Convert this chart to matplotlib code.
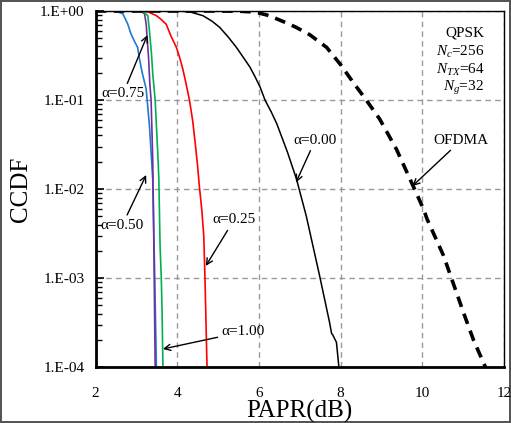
import matplotlib
matplotlib.use("Agg")
import matplotlib.pyplot as plt
from matplotlib.ticker import FixedLocator, FixedFormatter, LogLocator, NullFormatter

plt.rcParams["font.family"] = ["Liberation Serif", "DejaVu Serif"]
plt.rcParams["mathtext.fontset"] = "custom"
plt.rcParams["mathtext.rm"] = "Liberation Serif"
plt.rcParams["mathtext.it"] = "Liberation Serif:italic"

# CCDF curves (PAPR in dB, CCDF)
ofdma_x = [2, 5.0, 5.5, 5.8, 6.0, 6.2, 6.4, 6.6, 6.9, 7.25, 7.66, 8.0, 8.3, 8.63, 8.96,
           9.37, 9.7, 10.03, 10.12, 10.52, 10.77, 11.02, 11.26, 11.55]
ofdma_y = [1, 1, 0.995, 0.98, 0.95, 0.9, 0.83, 0.76, 0.66, 0.54, 0.39, 0.25, 0.16, 0.1, 0.061,
           0.028, 0.013, 0.006, 0.0046, 0.0018, 8.5e-4, 4e-4, 2e-4, 1e-4]

a000_x = [2, 4.0, 4.3, 4.63, 4.85, 5.04, 5.25, 5.45, 5.6, 5.78, 5.9, 6.03, 6.15, 6.3, 6.44,
          6.7, 6.92, 7.16, 7.49, 7.73, 7.78, 7.81, 7.9, 7.96]
a000_y = [1, 1, 0.98, 0.886, 0.77, 0.655, 0.51, 0.39, 0.31, 0.235, 0.185, 0.14, 0.1, 0.074,
          0.054, 0.026, 0.013, 0.005, 0.00105, 3.2e-4, 2.4e-4, 2.3e-4, 1.9e-4, 1e-4]

a025_x = [2, 3.12, 3.3, 3.49, 3.6, 3.73, 3.85, 3.98, 4.06, 4.14, 4.22, 4.3, 4.38, 4.45, 4.5,
          4.54, 4.6, 4.65, 4.68, 4.7, 4.73]
a025_y = [1, 1, 0.97, 0.886, 0.81, 0.71, 0.52, 0.39, 0.3, 0.22, 0.15, 0.1, 0.058, 0.03, 0.018,
          0.011, 0.006, 0.003, 0.001, 4e-4, 1e-4]

a050_x = [2, 2.5, 2.67, 2.79, 2.87, 2.95, 3.03, 3.07, 3.11, 3.15, 3.24, 3.32, 3.36, 3.4,
          3.45, 3.49]
a050_y = [1, 1, 0.93, 0.71, 0.55, 0.46, 0.39, 0.30, 0.24, 0.196, 0.133, 0.051, 0.026, 0.013,
          0.001, 1e-4]

a075_x = [2, 3.1, 3.2, 3.24, 3.28, 3.3, 3.33, 3.36, 3.4, 3.43, 3.46]
a075_y = [1, 1, 0.93, 0.71, 0.39, 0.29, 0.15, 0.1, 0.022, 0.002, 1e-4]

a100_x = [2, 3.15, 3.28, 3.32, 3.37, 3.4, 3.46, 3.53, 3.55, 3.58, 3.61, 3.63, 3.65]
a100_y = [1, 1, 0.886, 0.6, 0.33, 0.2, 0.1, 0.022, 0.013, 0.0023, 0.001, 4e-4, 1e-4]

x_ticks = [2, 4, 6, 8, 10, 12]
y_ticks = [1e-4, 1e-3, 1e-2, 1e-1, 1e0]
y_tick_labels = ["1.E-04", "1.E-03", "1.E-02", "1.E-01", "1.E+00"]

fig = plt.figure(figsize=(5.11, 4.23), dpi=100)
fig.patch.set_edgecolor("#555555")
fig.patch.set_linewidth(1.5)
ax = fig.add_axes([0.187, 0.132, 0.799, 0.842])

ax.plot(a000_x, a000_y, color="black", lw=1.1)
ax.plot(a025_x, a025_y, color="#ff0000", lw=1.2)
ax.plot(a050_x, a050_y, color="#1e7bd0", lw=1.2)
ax.plot(a075_x, a075_y, color="#7030a0", lw=1.2)
ax.plot(a100_x, a100_y, color="#00b050", lw=1.2)
ax.plot(ofdma_x, ofdma_y, color="black", lw=2.6, linestyle=(0, (3, 2)))

ax.set_yscale("log")
ax.set_xlim(2, 12)
ax.set_ylim(1e-4, 1)
ax.xaxis.set_major_locator(FixedLocator(x_ticks))
ax.yaxis.set_major_locator(FixedLocator(y_ticks))
ax.yaxis.set_major_formatter(FixedFormatter(y_tick_labels))
ax.yaxis.set_minor_locator(LogLocator(base=10, subs=range(2, 10)))
ax.yaxis.set_minor_formatter(NullFormatter())
ax.tick_params(axis="y", which="major", direction="in", length=6, width=1.2, labelsize=11, pad=8)
ax.tick_params(axis="y", which="minor", direction="in", length=4, width=1)
ax.tick_params(axis="x", which="major", length=0, labelsize=11, pad=14)

ax.grid(True, which="major", color="#999999", linestyle=(0, (4, 3)), lw=1)
for side in ("left", "bottom"):
    ax.spines[side].set_linewidth(2)
for side in ("top", "right"):
    ax.spines[side].set_linewidth(1)

ax.set_xlabel("PAPR(dB)", fontsize=18, labelpad=0)
ax.set_ylabel("CCDF", fontsize=18, labelpad=6)

arrow = dict(arrowstyle="->", color="black", lw=1, shrinkA=1, shrinkB=0)
txt = dict(fontsize=11, ha="center", va="center")
ax.annotate("α=0.75", xy=(3.27, 0.537), xytext=(2.67, 0.117), arrowprops=arrow, **txt)
ax.annotate("α=0.50", xy=(3.24, 0.0144), xytext=(2.65, 0.0039), arrowprops=arrow, **txt)
ax.annotate("α=0.25", xy=(4.7, 0.00137), xytext=(5.39, 0.0045), arrowprops=arrow, **txt)
ax.annotate("α=1.00", xy=(3.65, 1.6e-4), xytext=(5.62, 2.5e-4), arrowprops=arrow, **txt)
ax.annotate("α=0.00", xy=(6.91, 0.0119), xytext=(7.38, 0.0355), arrowprops=arrow, **txt)
ax.annotate("OFDMA", xy=(9.76, 0.0108), xytext=(10.96, 0.0355), arrowprops=arrow, **txt)

ax.text(11.52, 0.566, "QPSK", fontsize=11, ha="right", va="center")
ax.text(11.52, 0.346, r"$N_c$=256", fontsize=11, ha="right", va="center")
ax.text(11.52, 0.217, r"$N_{TX}$=64", fontsize=11, ha="right", va="center")
ax.text(11.52, 0.136, r"$N_g$=32", fontsize=11, ha="right", va="center")

fig.savefig("out.png", dpi=100)
